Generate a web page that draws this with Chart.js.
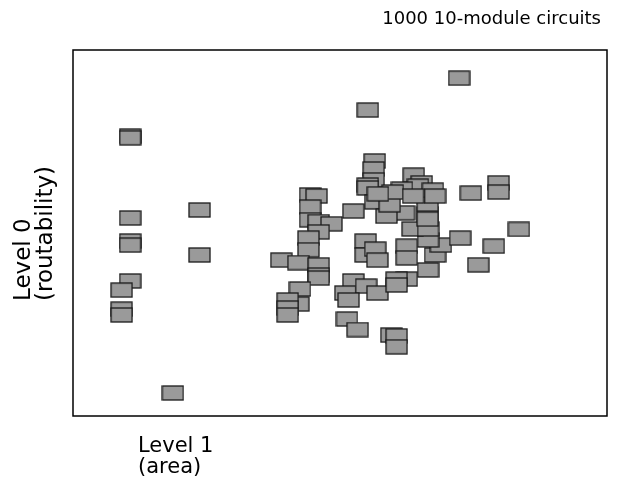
<!DOCTYPE html>
<html>
<head>
<meta charset="utf-8">
<script src="https://cdn.jsdelivr.net/npm/chart.js@4/dist/chart.umd.min.js"></script>
<style>
  html, body { margin: 0; padding: 0; background: #fff; }
  #wrap { width: 622px; height: 480px; }
</style>
</head>
<body>
<div id="wrap"><canvas id="chart" width="622" height="480"></canvas></div>
<script>
// circuits, Level 1 (area) vs Level 0 (routability), no tick values shown
var areaScore = [
  10.7, 10.7, 23.7, 10.7, 10.7, 10.7, 23.7, 10.7, 9.1, 9.1, 9.1, 18.7,
  72.3, 55.2,
  56.5, 56.3, 56.3, 55.2, 55.2, 56.6, 44.4, 45.6, 44.4, 44.4, 46.0, 48.4,
  52.5, 46.0, 44.1, 44.1, 39.0, 42.2, 46.0, 46.0, 46.0, 42.5, 42.2, 40.2,
  40.2, 40.2, 54.8, 54.8, 56.6, 57.0, 52.5, 51.0, 54.9, 57.0, 51.6, 51.3,
  53.3, 59.6, 60.6, 60.6,
  62.5, 62.5, 67.8, 66.5, 62.5, 60.6, 60.6, 68.9, 66.5, 63.6, 66.5, 66.4,
  66.4, 66.4, 62.0, 58.7, 59.3, 63.8, 65.3, 64.6, 61.6, 59.9, 67.4, 67.8,
  63.7, 72.5, 74.5, 79.7, 79.7, 83.5, 78.8, 75.9, 57.1
];
var routScore = [
  76.5, 76.0, 56.3, 54.1, 47.8, 46.7, 44.0, 36.9, 34.4, 29.2, 27.6, 6.3,
  92.3, 83.6,
  69.7, 67.5, 64.5, 63.1, 62.3, 58.5, 60.4, 60.1, 57.1, 53.6, 53.1, 52.5,
  56.0, 50.3, 48.6, 45.4, 42.6, 41.9, 41.3, 38.5, 37.7, 34.7, 30.6, 31.7,
  29.5, 27.6, 47.8, 44.0, 45.6, 42.6, 36.9, 33.6, 35.5, 33.6, 31.7, 26.5,
  23.6, 22.1, 21.9, 18.9,
  46.4, 43.2, 44.0, 39.9, 37.4, 37.4, 35.8, 46.7, 48.1, 51.1, 51.1, 55.2,
  53.8, 57.9, 55.5, 54.6, 57.7, 65.8, 63.7, 62.8, 62.0, 61.2, 61.7, 60.1,
  60.1, 48.6, 60.9, 63.7, 61.2, 51.0, 46.4, 41.3, 60.7
];

var titleText = '1000 10-module circuits';
var xLabel = ['Level 1', '(area)'];
var yLabel = ['Level 0', '(routability)'];

var points = areaScore.map(function(v, i) { return {x: v, y: routScore[i]}; });

// rectangular marker
var box = document.createElement('canvas');
box.width = 23;
box.height = 16;
var bctx = box.getContext('2d');
bctx.fillStyle = '#9a9a9a';
bctx.fillRect(1, 1, 21, 14);
bctx.strokeStyle = '#1a1a1a';
bctx.lineWidth = 1.3;
bctx.strokeRect(1, 1, 21, 14);

var frame = {
  id: 'frame',
  afterDraw: function(chart) {
    var ctx = chart.ctx, a = chart.chartArea;
    ctx.save();
    ctx.strokeStyle = '#000';
    ctx.lineWidth = 1.5;
    ctx.strokeRect(a.left, a.top, a.right - a.left, a.bottom - a.top);

    ctx.fillStyle = '#000';
    ctx.font = '18px "DejaVu Sans"';
    ctx.textAlign = 'right';
    ctx.textBaseline = 'middle';
    ctx.fillText(titleText, 601, 19);

    ctx.font = '21px "DejaVu Sans"';
    ctx.textAlign = 'left';
    ctx.textBaseline = 'middle';
    ctx.fillText(xLabel[0], 138, 447);
    ctx.fillText(xLabel[1], 138, 468);

    ctx.font = '23px "DejaVu Sans"';
    ctx.save();
    ctx.translate(24, 301);
    ctx.rotate(-Math.PI / 2);
    ctx.fillText(yLabel[0], 0, 0);
    ctx.restore();
    ctx.save();
    ctx.translate(46, 301);
    ctx.rotate(-Math.PI / 2);
    ctx.fillText(yLabel[1], 0, 0);
    ctx.restore();
    ctx.restore();
  }
};

new Chart(document.getElementById('chart').getContext('2d'), {
  type: 'scatter',
  data: {
    datasets: [{
      data: points,
      pointStyle: box,
      pointRadius: 10,
      pointHoverRadius: 10,
      clip: false
    }]
  },
  options: {
    responsive: false,
    animation: false,
    layout: { padding: { left: 73, top: 50, right: 15, bottom: 64 } },
    scales: {
      x: { type: 'linear', min: 0, max: 100, display: false },
      y: { type: 'linear', min: 0, max: 100, display: false }
    },
    plugins: {
      legend: { display: false },
      tooltip: { enabled: false }
    }
  },
  plugins: [frame]
});
</script>
</body>
</html>
